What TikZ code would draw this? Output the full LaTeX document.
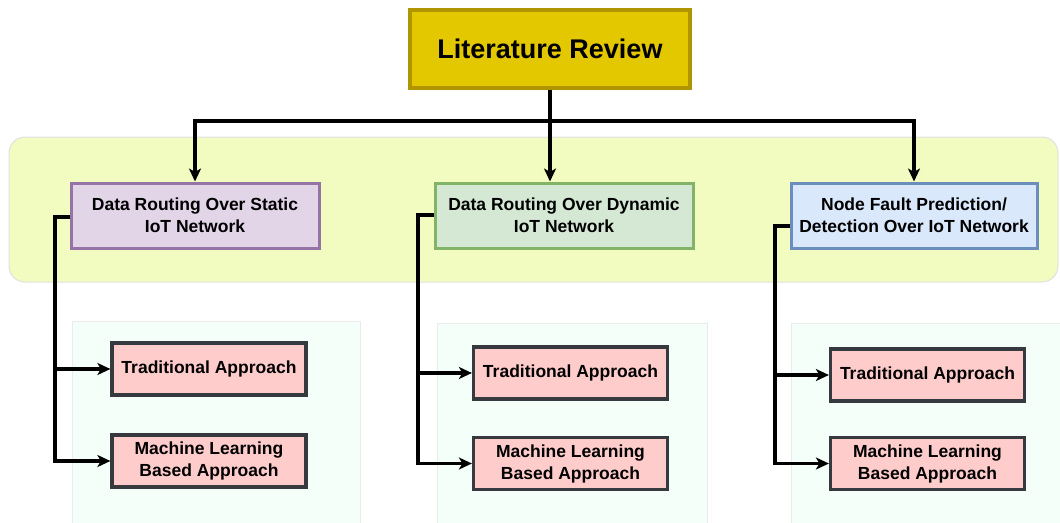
\documentclass[tikz,border=0pt]{standalone}
\usepackage{fontspec}
\setmainfont{Liberation Sans}
\usetikzlibrary{arrows.meta}
\definecolor{titlefill}{HTML}{E3C800}
\definecolor{titledraw}{HTML}{B09500}
\definecolor{bandfill}{HTML}{F3FCC0}
\definecolor{panelfill}{HTML}{F5FFFA}
\definecolor{purpfill}{HTML}{E1D5E7}
\definecolor{purpdraw}{HTML}{9673A6}
\definecolor{greenfill}{HTML}{D5E8D4}
\definecolor{greendraw}{HTML}{82B366}
\definecolor{bluefill}{HTML}{DAE8FC}
\definecolor{bluedraw}{HTML}{6C8EBF}
\definecolor{pinkfill}{HTML}{FFCCCC}
\definecolor{pinkdraw}{HTML}{36393D}
\tikzset{
  box/.style={rectangle, align=center, font=\bfseries\fontsize{17.5}{22}\selectfont, inner sep=0pt, line width=3pt},
  catbox/.style={box, minimum width=248pt, minimum height=65pt},
  subbox/.style={box, fill=pinkfill, draw=pinkdraw, line width=3.2pt, minimum width=194pt, minimum height=52pt},
  conn/.style={line width=3.2pt, draw=black},
  arr/.style={conn, -{Stealth[length=13pt, width=12pt, inset=3.5pt]}},
}
\begin{document}
\begin{tikzpicture}[x=1pt, y=-1pt]
\useasboundingbox (0,0) rectangle (1060,522);
% backgrounds
\fill[bandfill, draw=black!12, line width=1pt, rounded corners=16pt] (9,137) rectangle (1058,282);
\fill[panelfill, draw=black!8, line width=1pt] (72,321) rectangle (360,530);
\fill[panelfill, draw=black!8, line width=1pt] (437,323) rectangle (707,530);
\fill[panelfill, draw=black!8, line width=1pt] (791,323) rectangle (1070,530);
% title
\node[box, fill=titlefill, draw=titledraw, line width=3.5pt, minimum width=280pt, minimum height=78pt, font=\bfseries\fontsize{27}{32}\selectfont] (lit) at (550,49) {Literature Review};
% categories
\node[catbox, fill=purpfill, draw=purpdraw] (stat) at (195,215.5) {Data Routing Over Static\\IoT Network};
\node[catbox, fill=greenfill, draw=greendraw, minimum width=258pt] (dyn) at (564,215.5) {Data Routing Over Dynamic\\IoT Network};
\node[catbox, fill=bluefill, draw=bluedraw, minimum width=246pt] (fault) at (914,215.5) {Node Fault Prediction/\\Detection Over IoT Network};
% sub boxes
\node[subbox] (ta1) at (209,369) {Traditional Approach};
\node[subbox] (ml1) at (209,461) {Machine Learning\\Based Approach};
\node[subbox] (ta2) at (570.5,373) {Traditional Approach};
\node[subbox] (ml2) at (570.5,463.5) {Machine Learning\\Based Approach};
\node[subbox] (ta3) at (927.5,375) {Traditional Approach};
\node[subbox] (ml3) at (927.5,463.5) {Machine Learning\\Based Approach};
% top connectors
\coordinate (j) at (550,121);
\draw[conn] (lit.south) -- (j);
\draw[arr] (j) -| (stat.north);
\draw[arr] (j) -- (j |- dyn.north);
\draw[arr] (j) -| (fault.north);
% left tree
\coordinate (c1) at (55,217);
\draw[arr] (stat.west |- c1) -- (c1) |- (ta1.west);
\draw[arr] (c1) |- (ml1.west);
% middle tree
\coordinate (c2) at (418,215);
\draw[arr] (dyn.west |- c2) -- (c2) |- (ta2.west);
\draw[arr] (c2) |- (ml2.west);
% right tree
\coordinate (c3) at (775,226);
\draw[arr] (fault.west |- c3) -- (c3) |- (ta3.west);
\draw[arr] (c3) |- (ml3.west);
\end{tikzpicture}
\end{document}
